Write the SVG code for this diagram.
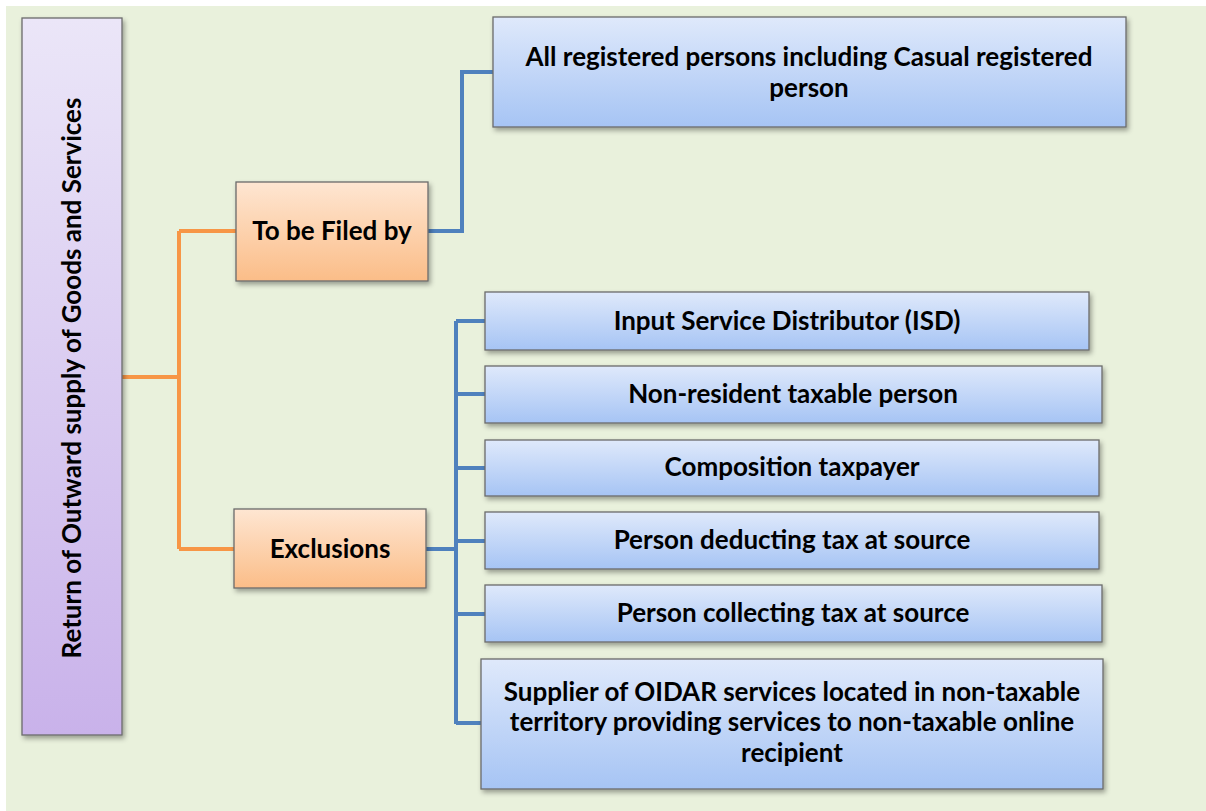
<svg xmlns="http://www.w3.org/2000/svg" width="1206" height="811" viewBox="0 0 1206 811">
<defs>
<linearGradient id="gPurple" x1="0" y1="0" x2="0" y2="1">
<stop offset="0" stop-color="#ebe6f8"/>
<stop offset="1" stop-color="#c9b2ea"/>
</linearGradient>
<linearGradient id="gOrange" x1="0" y1="0" x2="0" y2="1">
<stop offset="0" stop-color="#fee6d2"/>
<stop offset="1" stop-color="#fbbd88"/>
</linearGradient>
<linearGradient id="gBlue" x1="0" y1="0" x2="0" y2="1">
<stop offset="0" stop-color="#dfe9fb"/>
<stop offset="1" stop-color="#a6c4f4"/>
</linearGradient>
<filter id="shadow" x="-10%" y="-10%" width="130%" height="140%">
<feDropShadow dx="2" dy="3" stdDeviation="2.5" flood-color="#000" flood-opacity="0.35"/>
</filter>
</defs>
<style>
.box{stroke:#6b6b6b;stroke-width:1.3;filter:url(#shadow)}
.purple{fill:url(#gPurple)}
.orange{fill:url(#gOrange)}
.blue{fill:url(#gBlue)}
.t{font-family:Lato,"Liberation Sans",sans-serif;font-weight:700;font-size:26px;fill:#000;text-anchor:middle}
.tv{font-family:Lato,"Liberation Sans",sans-serif;font-weight:700;font-size:26px;fill:#000;text-anchor:middle}
.co{fill:none;stroke:#f79646;stroke-width:4;stroke-linejoin:miter}
.cb{fill:none;stroke:#4f81bd;stroke-width:4;stroke-linejoin:miter}
</style>
<rect x="0" y="0" width="1206" height="811" fill="#ffffff"/>
<rect x="6" y="6" width="1200" height="805" fill="#e9f1dc"/>

<g id="connectors">
<path class="co" d="M122,377 H179 M179,231 V549 M179,231 H236 M179,549 H234"/>
<path class="cb" d="M428,231 H462 V72 H493"/>
<path class="cb" d="M426,549 H456 M456,321 V724 M456,321 H485 M456,394 H485 M456,468 H485 M456,541 H485 M456,614 H485 M456,723 H481"/>
</g>

<g id="root">
<rect class="box purple" x="22" y="18" width="100" height="717"/>
<text class="tv" transform="translate(81,378) rotate(-90)">Return of Outward supply of Goods and Services</text>
</g>

<g id="filed">
<rect class="box orange" x="236" y="182" width="192" height="99"/>
<text class="t" x="332" y="240">To be Filed by</text>
</g>

<g id="exclusions">
<rect class="box orange" x="234" y="509" width="192" height="79"/>
<text class="t" x="330" y="558">Exclusions</text>
</g>

<g id="all-registered">
<rect class="box blue" x="493" y="17" width="633" height="110"/>
<text class="t" x="809" y="66">All registered persons including Casual registered</text>
<text class="t" x="809" y="97">person</text>
</g>

<g id="isd">
<rect class="box blue" x="485" y="292" width="604" height="58"/>
<text class="t" x="787" y="330">Input Service Distributor (ISD)</text>
</g>

<g id="non-resident">
<rect class="box blue" x="485" y="366" width="617" height="57"/>
<text class="t" x="793" y="403">Non-resident taxable person</text>
</g>

<g id="composition">
<rect class="box blue" x="485" y="440" width="614" height="56"/>
<text class="t" x="792" y="476">Composition taxpayer</text>
</g>

<g id="tds">
<rect class="box blue" x="485" y="512" width="614" height="57"/>
<text class="t" x="792" y="549">Person deducting tax at source</text>
</g>

<g id="tcs">
<rect class="box blue" x="485" y="585" width="617" height="57"/>
<text class="t" x="793" y="622">Person collecting tax at source</text>
</g>

<g id="oidar">
<rect class="box blue" x="481" y="659" width="622" height="130"/>
<text class="t" x="792" y="701">Supplier of OIDAR services located in non-taxable</text>
<text class="t" x="792" y="731">territory providing services to non-taxable online</text>
<text class="t" x="792" y="762">recipient</text>
</g>
</svg>
